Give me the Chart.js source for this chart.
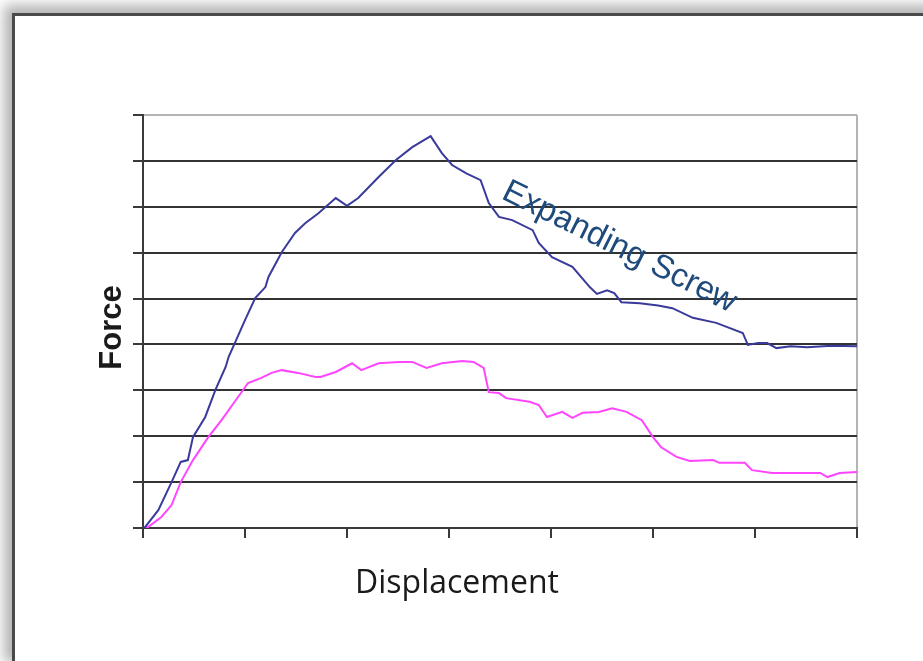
<!DOCTYPE html>
<html>
<head>
<meta charset="utf-8">
<title>Force vs Displacement</title>
<script src="https://cdn.jsdelivr.net/npm/chart.js@4.4.1/dist/chart.umd.min.js"></script>
<style>
    html, body { margin: 0; padding: 0; background: #fff; overflow: hidden; }
    #frame {
        position: absolute; left: 12px; top: 13px; width: 1000px; height: 645px;
        border-left: 3px solid #4a4a4a; border-top: 3px solid #4a4a4a;
        border-bottom: 1px solid #cccccc;
        box-shadow: -4px -4px 12px 4px rgba(0,0,0,.3);
        background: #fff;
    }
    #wrap { position: absolute; left: 0; top: 0; width: 923px; height: 661px; }
</style>
</head>
<body>
<div id="frame"></div>
<div id="wrap"><canvas id="chart" width="923" height="661"></canvas></div>
<script>
// axis extents (in tick units)
var xMax = 7;
var yMax = 9;

// expanding screw curve (blue)
var screwDisp  = [0, 0.02, 0.15, 0.28, 0.37, 0.44, 0.49, 0.61, 0.71, 0.81, 0.84, 0.90, 1.00, 1.10, 1.20, 1.23, 1.36, 1.49, 1.59, 1.72, 1.89, 2.00, 2.11, 2.31, 2.48, 2.64, 2.82, 2.93, 3.03, 3.17, 3.31, 3.39, 3.49, 3.62, 3.82, 3.88, 4.01, 4.21, 4.38, 4.45, 4.55, 4.62, 4.69, 4.87, 5.05, 5.19, 5.39, 5.62, 5.88, 5.93, 6.03, 6.12, 6.21, 6.35, 6.51, 6.75, 7.00];
var screwForce = [0, 0.02, 0.39, 1.00, 1.44, 1.48, 1.98, 2.42, 3.01, 3.51, 3.73, 4.03, 4.53, 5.01, 5.25, 5.47, 6.01, 6.43, 6.64, 6.86, 7.19, 7.02, 7.19, 7.65, 8.02, 8.30, 8.54, 8.17, 7.91, 7.73, 7.58, 7.08, 6.78, 6.71, 6.49, 6.21, 5.90, 5.69, 5.25, 5.10, 5.18, 5.12, 4.92, 4.90, 4.85, 4.79, 4.58, 4.47, 4.25, 3.99, 4.03, 4.03, 3.92, 3.96, 3.94, 3.97, 3.96];

// second curve (magenta)
var otherDisp  = [0, 0.05, 0.18, 0.28, 0.37, 0.49, 0.64, 0.77, 0.93, 1.03, 1.16, 1.26, 1.36, 1.52, 1.69, 1.74, 1.89, 2.05, 2.14, 2.31, 2.51, 2.64, 2.78, 2.93, 3.13, 3.24, 3.34, 3.39, 3.49, 3.56, 3.79, 3.88, 3.96, 4.11, 4.21, 4.31, 4.47, 4.60, 4.74, 4.89, 5.00, 5.08, 5.23, 5.36, 5.59, 5.65, 5.90, 5.97, 6.17, 6.41, 6.64, 6.71, 6.83, 7.00];
var otherForce = [0, 0.02, 0.24, 0.50, 1.00, 1.48, 1.98, 2.35, 2.85, 3.16, 3.27, 3.38, 3.44, 3.38, 3.29, 3.29, 3.40, 3.59, 3.44, 3.59, 3.62, 3.62, 3.49, 3.59, 3.64, 3.62, 3.49, 2.96, 2.94, 2.83, 2.75, 2.68, 2.42, 2.53, 2.40, 2.51, 2.53, 2.61, 2.53, 2.35, 1.98, 1.76, 1.55, 1.46, 1.48, 1.42, 1.42, 1.26, 1.20, 1.20, 1.20, 1.11, 1.20, 1.22];

function toPoints(xs, ys) {
    return xs.map(function(x, i) { return { x: x, y: ys[i] }; });
}

// axis titles and the in-plot label
var textPlugin = {
    id: 'chartTexts',
    afterDraw: function(chart) {
        var ctx = chart.ctx, a = chart.chartArea;
        var sx = chart.scales.x, sy = chart.scales.y;
        ctx.save();

        ctx.fillStyle = '#1a1a1a';
        ctx.textAlign = 'center';
        ctx.textBaseline = 'middle';
        ctx.font = 'bold 31px "Liberation Sans", Arial, sans-serif';
        ctx.save();
        ctx.translate(a.left - 31, (a.top + a.bottom) / 2 + 6);
        ctx.rotate(-Math.PI / 2);
        ctx.fillText('Force', 0, 0);
        ctx.restore();

        ctx.textBaseline = 'alphabetic';
        ctx.font = '32px "Open Sans", sans-serif';
        ctx.fillText('Displacement', a.left + 314, a.bottom + 65);

        ctx.fillStyle = '#1f4a7c';
        ctx.textBaseline = 'middle';
        ctx.font = '33px "Liberation Sans", Arial, sans-serif';
        ctx.translate(sx.getPixelForValue(4.67), sy.getPixelForValue(6.12));
        ctx.rotate(26.5 * Math.PI / 180);
        ctx.fillText('Expanding Screw', 0, 0);

        ctx.restore();
    }
};

new Chart(document.getElementById('chart').getContext('2d'), {
    type: 'line',
    data: {
        datasets: [{
            label: 'Expanding Screw',
            data: toPoints(screwDisp, screwForce),
            borderColor: '#3a3a9c',
            borderWidth: 2,
            pointRadius: 0,
            tension: 0
        }, {
            label: 'Other',
            data: toPoints(otherDisp, otherForce),
            borderColor: '#ff45ff',
            borderWidth: 2,
            pointRadius: 0,
            tension: 0
        }]
    },
    options: {
        responsive: false,
        animation: false,
        layout: { padding: { left: 133, right: 66, top: 115, bottom: 123 } },
        plugins: { legend: { display: false }, tooltip: { enabled: false } },
        scales: {
            x: {
                type: 'linear',
                min: 0,
                max: xMax,
                ticks: { display: false, stepSize: 1 },
                grid: {
                    color: function(c) { return c.tick && c.tick.value === xMax ? '#b4b4b4' : 'rgba(0,0,0,0)'; },
                    tickColor: '#3a3a3a',
                    lineWidth: 2,
                    tickLength: 10
                },
                border: { color: '#3a3a3a', width: 2 }
            },
            y: {
                min: 0,
                max: yMax,
                ticks: { display: false, stepSize: 1 },
                grid: {
                    color: function(c) { return c.tick && c.tick.value === yMax ? '#b4b4b4' : '#333333'; },
                    tickColor: '#3a3a3a',
                    lineWidth: 2,
                    tickLength: 10
                },
                border: { color: '#3a3a3a', width: 2 }
            }
        }
    },
    plugins: [textPlugin]
});
</script>
</body>
</html>
